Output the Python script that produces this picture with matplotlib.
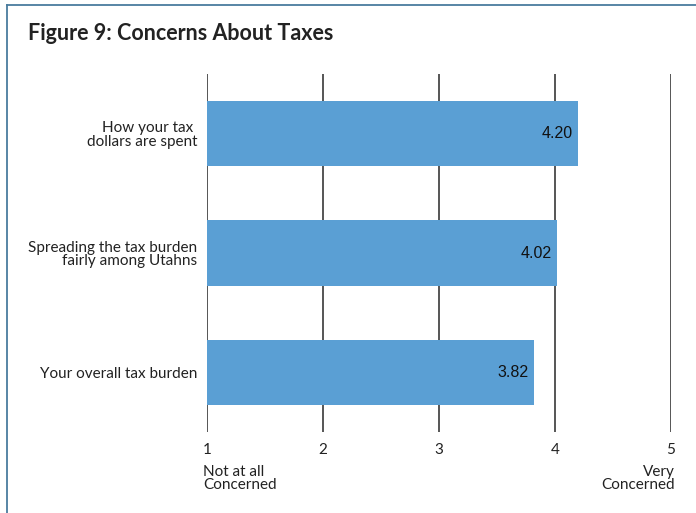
import matplotlib
matplotlib.use("Agg")
import matplotlib.pyplot as plt
from matplotlib.lines import Line2D

categories = ["How your tax \ndollars are spent",
              "Spreading the tax burden\nfairly among Utahns",
              "Your overall tax burden"]
values = [4.20, 4.02, 3.82]
tick_values = [1, 2, 3, 4, 5]
tick_labels = ["1", "2", "3", "4", "5"]
title = "Figure 9: Concerns About Taxes"
low_label = "Not at all\nConcerned"
high_label = "Very\nConcerned"

bar_color = "#5a9fd4"
grid_color = "#555555"
frame_color = "#4a7c9e"
font = "Lato"

fig = plt.figure(figsize=(6.96, 5.13), dpi=100)
ax = fig.add_axes([207/696, 81/513, 464/696, 358/513])

ypos = list(range(len(categories)))
for x in tick_values:
    ax.axvline(x, color=grid_color, lw=1.4, zorder=1)
ax.barh(ypos, [v - 1 for v in values], left=1, height=0.55, color=bar_color, zorder=2)
for y, v in zip(ypos, values):
    ax.text(v - 0.05, y, f"{v:.2f}", ha="right", va="center", fontsize=11.5,
            family="Liberation Sans", color="#111111", zorder=3)

ax.set_xlim(1, 5)
ax.set_ylim(2.5, -0.5)
ax.set_yticks(ypos)
ax.set_yticklabels(categories, fontsize=11, family=font, color="#222222",
                   linespacing=0.95)
ax.set_xticks(tick_values)
ax.set_xticklabels(tick_labels, fontsize=11, family=font, color="#222222")
ax.tick_params(axis="both", length=0)
ax.tick_params(axis="y", pad=7)
ax.tick_params(axis="x", pad=8)
for s in ax.spines.values():
    s.set_visible(False)

ax.annotate(low_label, xy=(1, 0), xycoords=("data", "axes fraction"),
            xytext=(-3, -24), textcoords="offset points", ha="left", va="top",
            fontsize=11, family=font, color="#222222", linespacing=0.85)
ax.annotate(high_label, xy=(5, 0), xycoords=("data", "axes fraction"),
            xytext=(3, -24), textcoords="offset points", ha="right", va="top",
            fontsize=11, family=font, color="#222222", linespacing=0.85)

fig.text(28/696, 1 - 34/513, title, fontsize=15.5, fontweight="bold", family=font,
         color="#222222", ha="left", va="center")

fig.add_artist(Line2D([7/696, 7/696], [0, 1 - 5/513], transform=fig.transFigure,
                      color=frame_color, lw=1.3))
fig.add_artist(Line2D([7/696, 1], [1 - 5/513, 1 - 5/513], transform=fig.transFigure,
                      color=frame_color, lw=1.3))

fig.savefig("out.png", dpi=100)
